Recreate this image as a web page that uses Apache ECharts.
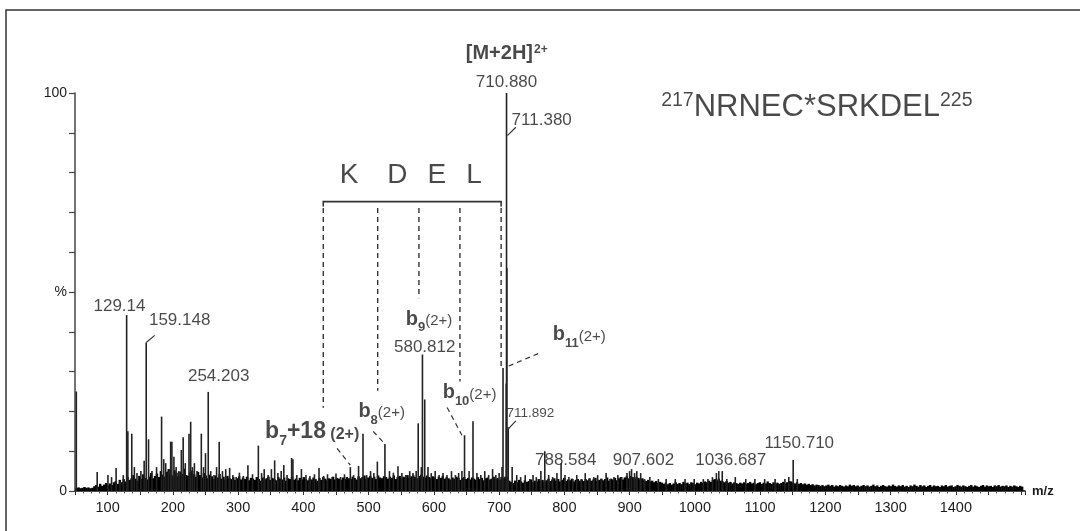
<!DOCTYPE html>
<html><head><meta charset="utf-8">
<script src="https://cdn.jsdelivr.net/npm/echarts@6/dist/echarts.min.js"></script>
<style>html,body{margin:0;padding:0;background:#fff}#c{width:1080px;height:531px}</style>
</head><body><div id="c"></div>
<script>
// ---- data (m/z, relative intensity %) ----
const xTickLabels = [100,200,300,400,500,600,700,800,900,1000,1100,1200,1300,1400];
const yTickLabels = {100:'100', 50:'%', 0:'0'};

// labelled / prominent fragment peaks
const peakMz  = [52,84,100.5,106,113,119,124,129.14,131,137,141,145,151,156,159.15,162.7,168,175,182.7,186,189,193,196.6,198.5,201.6,205,209,213,215.8,219,224.7,227.3,230,233,237,243.6,247,250,254.2,258,263,267,271,276,281,287,292,297,302,308,315,322,331,336,340,346,351,356,361,366,370,375,382,384,390,397,404,410,417,424,431,437,444,450,457,463,472,477,484.6,491.4,497,503,508,513.4,525,532,538,545,551,557,563,568,572.9,576,580.81,582.5,586,591,596,602,608,614,620,627,633,638,643,647,654,660,666,672,678,684,690,695,700,704.5,706,710.88,711.38,711.89,714,720,727,733,740,747,752,757,764,770,776,782,788.58,795,801,807,813,819,826,832,838,845,851,857,864,870,876,882,888,896,900,903,907.6,911,917,923,931,944,956,970,985,999,1013,1020,1027,1033,1036.69,1042,1049,1062,1078,1092,1107,1123,1138,1144,1150.71,1157];
const peakPct = [25,4.8,4,3.5,5.8,2.5,4,44.2,15,14.4,6,4.5,5,7.6,37.3,13,5,6,18.7,8,7,5,12.4,12.4,8.6,6,5,10.3,13.5,7,14.4,17.4,6,7,5,14.4,6,9.5,24.9,5,4,6,12.4,5,5.5,5.8,4,3.5,4.6,3.8,6.5,4.2,11.4,4.5,5.5,4,5.5,7.7,4.5,5,6.5,4,8.3,8,4,5.5,4,3.8,4.2,5.8,3.8,4.2,3.5,4.4,3.5,4.2,6,4,6.3,14.4,4,5,4.5,7.4,11.8,5,4.6,6.2,4.5,4,5,4.5,5,17,6,34.3,23,6,4.5,5,4,4.5,4,5,4,4.5,5,14,5,17.5,4.5,4,5,4,5.5,4,4.5,6,30.9,27,100,56,16,6,4,3.5,4,3,4,3.5,5,10,4,3.5,4.5,7,4,3.5,3,4,3,4.5,3,3.5,4,3,4.5,3,3.5,4,3.5,4.5,5,5.5,4.5,5,4.5,3,3.5,3,3,3,3,3,3,3,3.5,4.5,5,5,3,3.5,3,3,3,3,3,3.5,7.8,3];

// dense background ions: one bin every 3 m/z starting at m/z 52
const noiseStartMz = 52, noiseBinMz = 3;
const noisePct = [
0.8,0.9,0.7,0.8,1.0,0.8,0.9,0.7,0.8,1.2,1.5,1.1,1.8,1.3,1.6,2.0,1.4,1.9,1.5,2.2,
2.5,1.8,2.8,2.2,3.0,2.4,3.5,2.8,3.2,4.0,3.1,2.6,3.8,3.0,4.2,3.3,2.9,3.6,4.5,3.2,
3.8,4.4,3.5,5.0,4.1,3.6,4.8,5.5,4.2,3.9,5.2,4.6,3.7,4.9,4.3,5.6,4.0,3.8,4.7,5.1,
4.2,3.6,4.8,4.0,3.4,4.5,3.9,3.2,4.1,3.7,3.0,3.9,3.4,4.3,3.1,3.6,2.9,3.8,3.3,3.0,
3.5,2.8,3.2,3.7,2.9,3.4,3.0,3.6,2.7,3.3,3.1,2.8,3.5,3.0,2.6,3.4,2.9,3.2,3.6,2.8,
3.3,3.0,2.7,3.5,3.1,2.9,3.4,2.6,3.2,3.0,3.6,2.8,3.1,2.7,3.3,2.9,3.5,3.0,2.7,3.2,
2.9,3.4,3.0,2.6,3.3,2.8,3.5,3.1,2.7,3.2,3.0,3.6,2.9,3.3,3.1,2.8,3.4,3.0,3.5,3.2,
3.0,3.6,3.3,2.9,3.7,3.2,3.5,3.9,3.1,3.4,3.8,3.3,3.6,3.0,3.9,3.4,3.2,3.7,3.5,3.1,
3.6,3.3,3.9,3.0,3.5,3.8,3.2,3.6,3.4,4.0,3.3,3.7,3.9,3.5,3.2,3.8,4.1,3.6,3.4,3.9,
3.5,3.2,3.7,3.4,3.0,3.6,3.3,3.8,3.1,3.5,3.2,2.9,3.4,3.1,3.6,3.3,2.8,3.2,3.5,3.0,
3.3,2.9,3.4,3.1,2.8,3.5,3.0,3.3,2.7,3.2,3.4,2.9,3.1,3.6,3.0,3.3,2.8,3.5,3.2,3.6,
3.4,2.6,2.3,2.0,2.6,2.2,2.8,2.4,2.1,2.7,2.3,2.5,2.9,2.2,2.6,2.4,3.0,2.5,2.8,2.3,
2.7,3.1,2.5,2.9,3.2,2.6,3.0,2.4,2.8,3.3,2.5,2.9,2.7,3.1,2.4,2.8,3.0,2.6,2.9,2.5,
3.0,2.7,3.2,2.6,2.9,3.3,2.5,2.8,3.1,2.7,3.0,3.4,2.6,3.1,2.9,3.3,2.7,3.2,3.5,2.9,
3.4,3.7,3.2,3.8,3.5,3.1,3.6,3.3,2.9,3.2,2.7,2.5,2.8,2.4,2.6,2.2,2.5,2.0,2.3,2.1,
1.8,2.1,1.7,2.0,1.6,1.9,2.2,1.8,2.0,1.7,2.3,1.9,2.1,1.8,2.2,2.0,1.7,2.1,1.9,2.3,
2.0,2.4,2.2,2.6,2.3,2.8,3.0,2.7,3.1,2.6,2.4,2.2,2.5,2.1,2.3,1.9,2.2,2.0,1.8,2.1,
1.9,2.2,1.8,2.0,2.3,1.9,2.1,1.7,2.0,2.2,1.8,2.1,1.9,2.4,2.0,1.8,2.2,1.9,2.1,1.8,
2.0,2.3,1.9,2.2,2.5,2.4,2.1,1.9,2.2,1.8,2.0,1.7,1.9,1.6,1.8,1.5,1.7,1.4,1.6,1.5,
1.3,1.5,1.2,1.4,1.6,1.3,1.5,1.1,1.4,1.2,1.5,1.3,1.1,1.4,1.2,1.6,1.3,1.5,1.2,1.4,
1.1,1.3,1.5,1.2,1.4,1.1,1.3,1.6,1.2,1.4,1.0,1.3,1.5,1.2,1.1,1.4,1.2,1.6,1.3,1.1,
1.4,1.2,1.5,1.1,1.3,1.0,1.4,1.2,1.6,1.3,1.1,1.5,1.2,1.4,1.0,1.3,1.5,1.1,1.4,1.2,
1.3,1.0,1.4,1.2,1.5,1.1,1.3,1.4,1.0,1.2,1.5,1.3,1.1,1.4,1.2,1.0,1.3,1.5,1.1,1.4,
1.2,1.0,1.3,1.5,1.1,1.4,1.2,1.3,1.0,1.4,1.2,1.5,1.1,1.3,1.2,1.4,1.0,1.3,1.1,1.4,
1.2,1.0,1.3,1.1];

// KDEL ladder (m/z positions of the b-ion steps, heights of dashed drops in %)
const ladderMz  = [430.5, 513.9, 577.1, 640.0, 703.1];
const ladderEnd = [20.9, 25.2, 48.4, 27.5, 30.9];
const ladderTop = 72.7;
const residues = ['K','D','E','L'];

// ---- layout-only helpers ----
const FONT = '"Liberation Sans", Arial, Helvetica, sans-serif';
const noiseData = noisePct.map((v,i)=>[noiseStartMz + i*noiseBinMz, v]);
const peakData = peakMz.map((m,i)=>[m, peakPct[i]]);

const annotations = [
  {at:[118.2,46.4], t:'{n|129.14}'},
  {at:[210.4,42.9], t:'{n|159.148}'},
  {at:[270.2,28.8], t:'{n|254.203}'},
  {at:[711.7,109.9], t:'{mb|[M+2H]}{msup|2+}'},
  {at:[711.4,102.6], t:'{n|710.880}'},
  {at:[765.3,93.1], t:'{n|711.380}'},
  {at:[1187,96.5], t:'{ssup|217}{seq|NRNEC*SRKDEL}{ssup|225}'},
  {at:[592.7,42.5], t:'{b|b}{bs|9}{c|(2+)}'},
  {at:[586,36.1], t:'{n|580.812}'},
  {at:[520,19.3], t:'{b|b}{bs|8}{c|(2+)}'},
  {at:[654.7,24.0], t:'{b|b}{bs|10}{c|(2+)}'},
  {at:[413.5,14.2], t:'{b7|b}{b7s|7}{b7|+18}{c7| (2+)}'},
  {at:[822.8,38.6], t:'{b|b}{bs|11}{c|(2+)}'},
  {at:[747.9,19.5], t:'{s|711.892}'},
  {at:[802.1,7.7], t:'{n|788.584}'},
  {at:[921.2,7.7], t:'{n|907.602}'},
  {at:[1055.1,7.7], t:'{n|1036.687}'},
  {at:[1160,12.1], t:'{n|1150.710}'}
];
const kdelPos = [[470.1,79.4],[544,79.4],[604.4,79.4],[661.4,79.4]];

const leaders = [
  {c:[[712.6,89.3],[725.7,91.4]], dashed:false},
  {c:[[159.15,37.3],[172.2,39.1]], dashed:false},
  {c:[[713.5,15.5],[725.6,17.6]], dashed:false},
  {c:[[714.7,31.4],[765.3,34.9]], dashed:true},
  {c:[[620.3,21.0],[643,14]], dashed:true},
  {c:[[507,15.0],[525,11.8]], dashed:true},
  {c:[[451.7,10.7],[472,6.5]], dashed:true}
];

const lineData = [];
lineData.push({coords:[[ladderMz[0],ladderTop-1.2],[ladderMz[0],ladderTop],[ladderMz[4],ladderTop],[ladderMz[4],ladderTop-1.2]], lineStyle:{type:'solid', width:1.6}});
ladderMz.forEach((m,i)=>lineData.push({coords:[[m,ladderTop-1.6],[m,ladderEnd[i]]], lineStyle:{type:[5,4], width:1.4}}));
leaders.forEach(l=>lineData.push({coords:l.c, lineStyle:{type:l.dashed?[5,4]:'solid', width:1.2}}));

const TXT = '#1c1c1c';
const rich = {
  n:{fontSize:17, color:TXT, fontFamily:FONT},
  s:{fontSize:13.5, color:TXT, fontFamily:FONT},
  mb:{fontSize:20, fontWeight:'bold', color:TXT, fontFamily:FONT, verticalAlign:'bottom'},
  msup:{fontSize:12, fontWeight:'bold', color:TXT, fontFamily:FONT, verticalAlign:'bottom', padding:[0,0,8,1]},
  seq:{fontSize:31, color:TXT, fontFamily:FONT, verticalAlign:'bottom'},
  ssup:{fontSize:19.5, color:TXT, fontFamily:FONT, verticalAlign:'bottom', padding:[0,0,12,0]},
  b:{fontSize:20, fontWeight:'bold', color:TXT, fontFamily:FONT, verticalAlign:'bottom', padding:[0,0,5,0]},
  bs:{fontSize:13, fontWeight:'bold', color:TXT, fontFamily:FONT, verticalAlign:'bottom'},
  c:{fontSize:15, color:TXT, fontFamily:FONT, verticalAlign:'bottom', padding:[0,0,6,0]},
  b7:{fontSize:23, fontWeight:'bold', color:TXT, fontFamily:FONT, verticalAlign:'bottom', padding:[0,0,5,0]},
  b7s:{fontSize:14, fontWeight:'bold', color:TXT, fontFamily:FONT, verticalAlign:'bottom'},
  c7:{fontSize:16, fontWeight:'bold', color:TXT, fontFamily:FONT, verticalAlign:'bottom', padding:[0,0,6,0]},
  k:{fontSize:28, color:TXT, fontFamily:FONT}
};

const labelData = annotations.map(a=>({value:a.at, label:{formatter:a.t}}))
  .concat(kdelPos.map((p,i)=>({value:p, label:{formatter:'{k|'+residues[i]+'}'}})));

const chart = echarts.init(document.getElementById('c'), null, {renderer:'canvas'});
chart.setOption({
  backgroundColor:'#fff',
  animation:false,
  grid:{left:75, right:55, top:93, bottom:40, containLabel:false},
  xAxis:{
    type:'value', min:50, max:1506, interval:50,
    name:'m/z', nameLocation:'end', nameGap:7,
    nameTextStyle:{fontSize:13, color:TXT, fontFamily:FONT, fontWeight:'bold', verticalAlign:'middle'},
    axisLine:{show:true, onZero:false, lineStyle:{color:'#111', width:1.6}},
    axisTick:{show:true, length:4, lineStyle:{color:'#333', width:1}},
    minorTick:{show:true, splitNumber:4, length:2.5, lineStyle:{color:'#555'}},
    splitLine:{show:false},
    axisLabel:{margin:9, fontSize:14.5, color:TXT, fontFamily:FONT, showMaxLabel:false, showMinLabel:true,
      formatter:v=> xTickLabels.indexOf(v)>=0 ? String(v) : ''}
  },
  yAxis:{
    type:'value', min:0, max:100, interval:10,
    axisLine:{show:true, lineStyle:{color:'#444', width:1.5}},
    axisTick:{show:true, length:6, lineStyle:{color:'#444', width:1.2}},
    splitLine:{show:false},
    axisLabel:{margin:8, fontSize:14, color:TXT, fontFamily:FONT,
      formatter:v=> (yTickLabels[v]!==undefined ? yTickLabels[v] : '')}
  },
  graphic:[{type:'rect', shape:{x:6, y:10, width:1100, height:560}, style:{fill:'none', stroke:'#333', lineWidth:1.5}, silent:true, z:-10}],
  series:[
    {type:'bar', data:noiseData, barWidth:2.4, barGap:'-100%', itemStyle:{color:'#000'}, silent:true},
    {type:'bar', data:peakData, barWidth:1.6, barGap:'-100%', itemStyle:{color:'#222'}, silent:true},
    {type:'lines', coordinateSystem:'cartesian2d', polyline:true, data:lineData, silent:true,
      lineStyle:{color:'#333', width:1.3, opacity:1}, z:5},
    {type:'scatter', data:labelData, symbolSize:0, clip:false, silent:true, z:6,
      label:{show:true, position:'inside', align:'center', verticalAlign:'middle', rich:rich, color:TXT}}
  ]
});
</script>
</body></html>
